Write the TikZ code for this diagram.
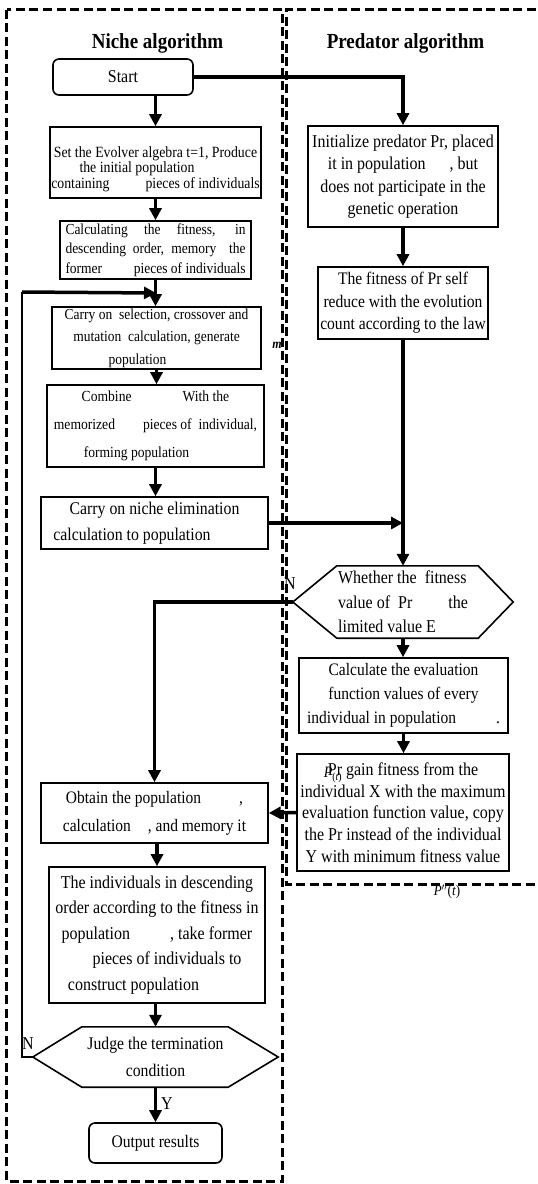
\documentclass[tikz,border=0pt]{standalone}
\usepackage{fontspec}
\setmainfont{Liberation Serif}[FakeStretch=0.885]
\usetikzlibrary{arrows.meta,calc}
\newcommand{\myfs}[2]{\fontsize{\fpeval{#1*1.13}pt}{#2pt}\selectfont}
\tikzset{
  box/.style={draw, line width=1.6pt, rectangle, inner sep=0pt, align=center},
  rbox/.style={box, rounded corners=6pt},
  hexnode/.style={rectangle, inner sep=0pt},
  boxline/.style={line width=1.6pt, line join=miter},
  arr/.style={line width=3.5pt, -{Triangle[length=12pt,width=12pt]}},
  thinline/.style={line width=2pt},
  dashbox/.style={line width=3pt, dash pattern=on 9pt off 4.5pt},
  lab/.style={inner sep=0pt, font=\myfs{16}{16}},
}
\begin{document}
\begin{tikzpicture}[x=1pt,y=-1pt]
\useasboundingbox (0,0) rectangle (538,1184);
% containers
\draw[dashbox] (6.5,9.5) rectangle (282,1181);
\draw[dashbox, dash phase=4pt] (545,9.5) -- (286,9.5) -- (286,884) -- (545,884);
% titles
\node[font=\bfseries\myfs{19}{19}] (t1) at (157.5,43) {Niche algorithm};
\node[font=\bfseries\myfs{19}{19}] (t2) at (405.5,43) {Predator algorithm};
% left column
\node[rbox, minimum width=140pt, minimum height=36pt, font=\myfs{16}{19}] (start) at (123,77) {Start};
\node[box, minimum width=211pt, minimum height=71pt, font=\myfs{13.8}{14}] (box1) at (155.5,162.5)
 {\rule{0pt}{24pt}Set the Evolver algebra t=1, Produce\\
  the initial population\hspace*{37pt}\mbox{}\\
  containing\hspace*{36pt}pieces of individuals};
\node[box, minimum width=191pt, minimum height=58pt, font=\myfs{13.5}{19.5}] (box2) at (155.5,250)
 {\makebox[180pt][s]{Calculating the fitness, in}\\
  \makebox[180pt][s]{descending order, memory\hspace{6pt} the}\\
  \makebox[180pt][s]{former\hfill pieces of individuals}};
\node[box, minimum width=209pt, minimum height=62pt, font=\myfs{13.5}{22.5}] (box3) at (156.5,338)
 {Carry on\ \ selection, crossover and\\
  mutation\ \ calculation, generate\\
  population\hspace*{38pt}\mbox{}};
\node[box, minimum width=217pt, minimum height=82pt, font=\myfs{13.6}{28}] (box4) at (155.5,426)
 {Combine\hspace*{51pt}With the\\
  memorized\hspace*{28pt}pieces of\ \ individual,\\
  forming population\hspace*{38pt}\mbox{}};
\node[box, minimum width=227pt, minimum height=52pt, font=\myfs{15.8}{26}] (box5) at (154.5,523)
 {Carry on niche elimination\\
  calculation to population\hspace*{45pt}\mbox{}};
\node[box, minimum width=227pt, minimum height=60pt, font=\myfs{15.5}{28}] (obtain) at (154.5,813)
 {Obtain the population\hspace*{38pt},\\
  calculation\hspace*{17pt}, and memory it};
\node[box, minimum width=216pt, minimum height=136pt, font=\myfs{16}{25.5}] (indiv) at (157,935)
 {The individuals in descending\\
  order according to the fitness in\\
  population\hspace*{40pt}, take former\\
  \hspace*{20pt}pieces of individuals to\\
  construct population\hspace*{47pt}\mbox{}};
\node[hexnode, minimum width=245pt, minimum height=60pt, align=center, font=\myfs{15.7}{27}] (hex2) at (155.5,1057)
 {Judge the termination\\ condition};
\draw[boxline] (hex2.west) -- ($(hex2.north west)+(49,0)$) -- ($(hex2.north east)+(-50,0)$) -- (hex2.east)
  -- ($(hex2.south east)+(-50,0)$) -- ($(hex2.south west)+(49,0)$) -- cycle;
\node[rbox, minimum width=133pt, minimum height=40pt, font=\myfs{15.6}{19}] (output) at (155.5,1143) {Output results};
% right column
\node[box, minimum width=190pt, minimum height=101pt, font=\myfs{16}{22.5}] (prbox) at (403,176.5)
 {Initialize predator Pr, placed\\
  it in population\hspace*{24pt}, but\\
  does not participate in the\\
  genetic operation};
\node[box, minimum width=170pt, minimum height=72pt, font=\myfs{15.6}{22.5}] (fitbox) at (403,303)
 {The fitness of Pr self\\ reduce with the evolution\\ count according to the law};
\node[hexnode, minimum width=220pt, minimum height=72pt, align=left, font=\myfs{16}{24.5}] (hex1) at (403,602)
 {Whether the\ \ fitness\\
  value of\ \ Pr\hspace*{36pt}the\\
  limited value E};
\draw[boxline] (hex1.west) -- ($(hex1.north west)+(44,0)$) -- ($(hex1.north east)+(-35,0)$) -- (hex1.east)
  -- ($(hex1.south east)+(-35,0)$) -- ($(hex1.south west)+(44,0)$) -- cycle;
\node[box, minimum width=209pt, minimum height=75pt, font=\myfs{15.5}{24}] (calc) at (403.5,695.5)
 {Calculate the evaluation\\ function values of every\\ individual in population\hspace*{40pt}.};
\node[box, minimum width=212pt, minimum height=117pt, font=\myfs{16}{21.7}] (prgain) at (403,812.5)
 {Pr gain fitness from the\\ individual X with the maximum\\ evaluation function value, copy\\
  the Pr instead of the individual\\ Y with minimum fitness value};
% labels
\node[lab] (nlab1) at (290,584) {N};
\node[lab] (nlab2) at (28,1044) {N};
\node[lab] (ylab) at (167,1104) {Y};
\node[inner sep=0pt, font=\bfseries\itshape\myfs{12}{12}] (mlab) at (277,345) {m};
\node[inner sep=0pt, font=\myfs{14}{14}] (ptlab) at (333,775) {\textit{P}\textsubscript{(\textit{t})}};
\node[inner sep=0pt, font=\myfs{13}{13}] (pptlab) at (447,892) {\textit{P}$''$(\textit{t})};
% connectors
\coordinate (loopc) at (22,292);
\coordinate (loopend) at ($(box2.south)!0.5!(box3.north)$);
\draw[arr] (start.south -| box1.north) -- (box1.north);
\draw[arr] (start.east) -| (prbox.north);
\draw[arr] (box1.south) -- (box1.south |- box2.north);
\draw[arr] (box2.south) -- (box2.south |- box3.north);
\draw[thinline] (hex2.west) -| (loopc);
\draw[arr] (loopc) -- (loopend);
\draw[arr] (box3.south) -- (box3.south |- box4.north);
\draw[arr] (box4.south) -- (box4.south |- box5.north);
\draw[arr] (box5.east) -- (fitbox.south |- box5.east);
\draw[arr] (prbox.south) -- (prbox.south |- fitbox.north);
\draw[arr] (fitbox.south) -- (fitbox.south |- hex1.north);
\draw[arr] (hex1.south) -- (hex1.south |- calc.north);
\draw[arr] (calc.south) -- (calc.south |- prgain.north);
\draw[arr] (hex1.west) -| (obtain.north);
\draw[arr] (prgain.west) -- (obtain.east);
\draw[arr] (obtain.south -| indiv.north) -- (indiv.north);
\draw[arr] (indiv.south -| hex2.north) -- (hex2.north);
\draw[arr] (hex2.south) -- (output.north);
\end{tikzpicture}
\end{document}
